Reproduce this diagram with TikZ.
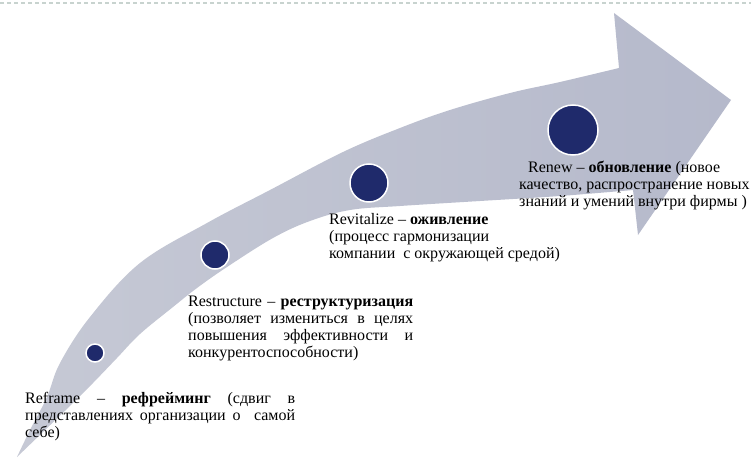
\documentclass[tikz,border=0pt]{standalone}
\usepackage{fontspec}
\setmainfont{Liberation Serif}
\definecolor{dotblue}{HTML}{1F2A6B}
\definecolor{arrowlight}{HTML}{C6C9D5}
\definecolor{arrowdark}{HTML}{B5B9CB}
\definecolor{rulegray}{HTML}{C8D3CF}

\begin{document}
\begin{tikzpicture}[x=1pt, y=-1pt,
  stage dot/.style={circle, fill=dotblue, draw=white, line width=1.5pt, inner sep=0pt},
  stage text/.style={anchor=base west, inner sep=0pt, font=\fontsize{16}{17}\selectfont}]

  \useasboundingbox (0,0) rectangle (751,468);
  \draw[rulegray, line width=1.2pt, dash pattern=on 4pt off 3pt] (0,3) -- (751,3);

  % the big arrow
  \path[left color=arrowlight, right color=arrowdark]
    plot[smooth, tension=0.6] coordinates {(17,457) (30,430) (47,397) (60,363)
      (90,317) (140,263) (207,223) (270,190) (343,152) (400,128)
      (450,110) (510,93) (560,82) (619,68)}
    -- (614,13) -- (731,100) -- (638,235) -- (633,190)
    -- plot[smooth, tension=0.6] coordinates {(633,190) (560,196) (480,201)
      (400,206) (350,210) (310,221) (273,238) (227,267) (197,288) (173,307)
      (140,334) (117,358) (93,383) (73,403) (17,457)} -- cycle;

  % stages
  \node[stage dot, minimum size=18pt] (reframe) at (95,353) {};
  \node[stage dot, minimum size=28pt] (restructure) at (215,255) {};
  \node[stage dot, minimum size=38pt] (revitalize) at (369,183) {};
  \node[stage dot, minimum size=50pt] (renew) at (573,130) {};

  % captions
  \node[stage text, text width=270pt, align=justify] (reframe text) at (25,403)
    {Reframe – \textbf{рефрейминг} (сдвиг в\linebreak представлениях организации о\ \ самой\linebreak себе)};
  \node[stage text, text width=225pt, align=justify] (restructure text) at (188,306)
    {Restructure – \textbf{реструктуризация}\linebreak (позволяет измениться в целях\linebreak повышения эффективности и\linebreak конкурентоспособности)};
  \node[stage text, text width=240pt, align=flush left] (revitalize text) at (329,224)
    {Revitalize – \textbf{оживление}\\(процесс гармонизации\\компании\ \ с окружающей средой)};
  \node[stage text, text width=232pt, align=flush left] (renew text) at (519,172)
    {\hspace*{9pt}Renew – \textbf{обновление} (новое\\качество, распространение новых\\знаний и умений внутри фирмы )};
\end{tikzpicture}
\end{document}
